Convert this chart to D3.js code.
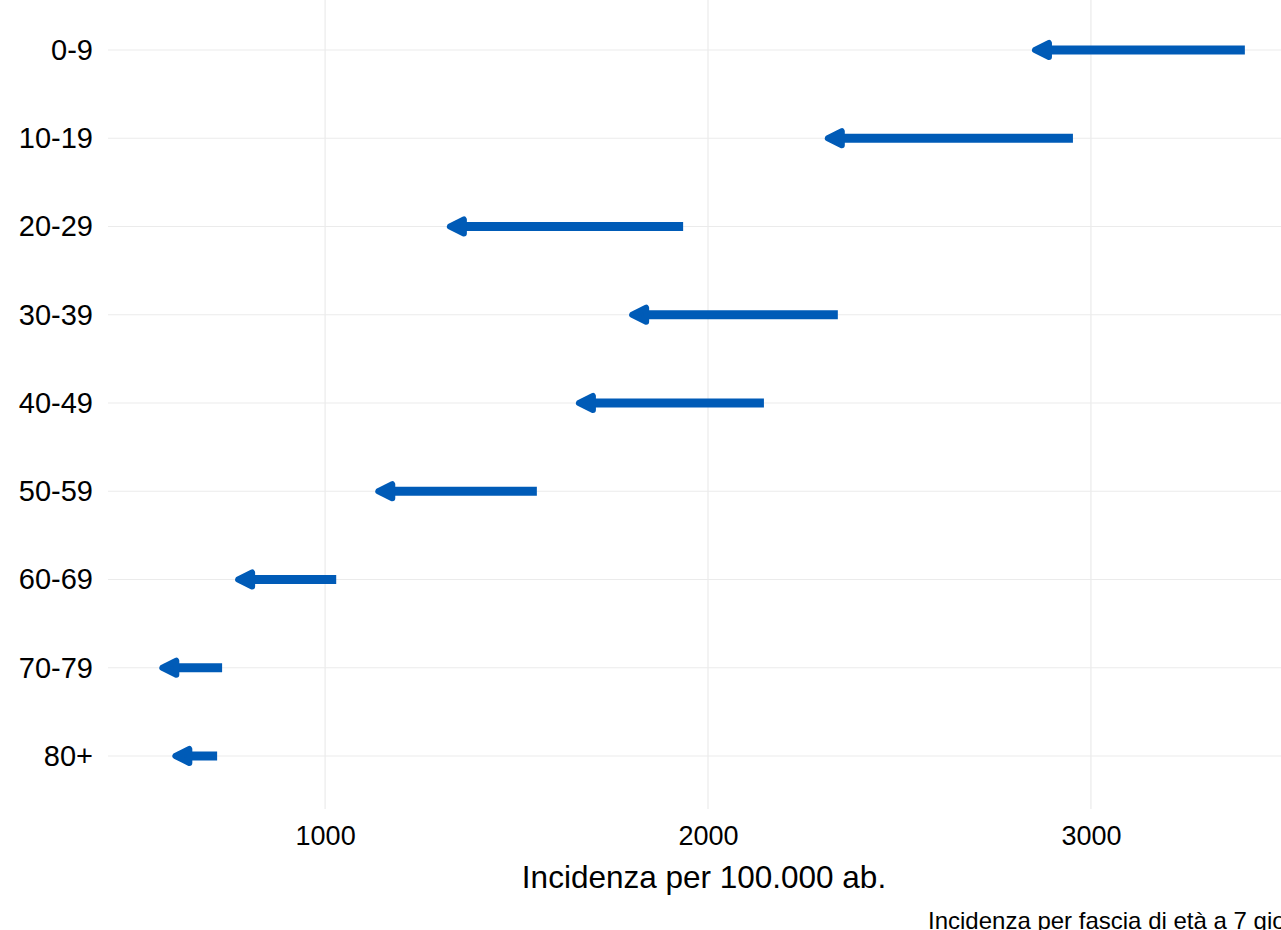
<!DOCTYPE html>
<html>
<head>
<meta charset="utf-8">
<script src="https://cdn.jsdelivr.net/npm/d3@7"></script>
<style>
  body { margin: 0; background: #fff; }
  svg { display: block; font-family: "Liberation Sans", Arial, sans-serif; }
</style>
</head>
<body>
<svg id="chart" width="1281" height="930"></svg>
<script>
// age bands, top to bottom
const ageGroups = ['0-9', '10-19', '20-29', '30-39', '40-49', '50-59', '60-69', '70-79', '80+'];
// incidence a week before (arrow tail) and now (arrow tip)
const incidencePrev = [3402, 2953, 1935, 2339, 2146, 1553, 1029, 731, 718];
const incidenceNow = [2846, 2305, 1318, 1794, 1655, 1131, 765, 567, 601];
const xTicks = [1000, 2000, 3000];

const rows = ageGroups.map((g, i) => ({ g, from: incidencePrev[i], to: incidenceNow[i] }));

const panel = { left: 108, right: 1300, top: -3, bottom: 809 };
const BLUE = '#005bb7';
const GRID = '#ebebeb';

const svg = d3.select('#chart');

const x = d3.scaleLinear().domain([433, 3546]).range([panel.left, panel.right]);
const y = d3.scalePoint().domain(ageGroups).range([50, 756]);

// grid
const grid = svg.append('g');
grid.selectAll('line.v')
  .data(xTicks)
  .enter()
  .append('line')
  .attr('x1', d => x(d)).attr('x2', d => x(d))
  .attr('y1', panel.top).attr('y2', panel.bottom)
  .attr('stroke', GRID).attr('stroke-width', 1.2);
grid.selectAll('line.h')
  .data(ageGroups)
  .enter()
  .append('line')
  .attr('x1', panel.left).attr('x2', panel.right)
  .attr('y1', d => y(d)).attr('y2', d => y(d))
  .attr('stroke', GRID).attr('stroke-width', 1.2);

// x axis
const xAxis = svg.append('g')
  .attr('transform', `translate(0,${panel.bottom + 6})`)
  .call(d3.axisBottom(x).tickValues(xTicks).tickSize(0).tickPadding(0).tickFormat(d3.format('d')));
xAxis.select('.domain').remove();
xAxis.selectAll('text')
  .attr('dy', '1.1em')
  .style('font-family', '"Liberation Sans", Arial, sans-serif')
  .style('font-size', '27px')
  .attr('fill', '#000');

// y axis
const yAxis = svg.append('g')
  .attr('transform', `translate(${panel.left - 15},0)`)
  .call(d3.axisLeft(y).tickSize(0).tickPadding(0));
yAxis.select('.domain').remove();
yAxis.selectAll('text')
  .style('font-family', '"Liberation Sans", Arial, sans-serif')
  .style('font-size', '29px')
  .attr('fill', '#000');

// arrows
const arrows = svg.append('g');
arrows.selectAll('line.seg')
  .data(rows)
  .enter()
  .append('line')
  .attr('x1', d => x(d.from))
  .attr('x2', d => x(d.to) + 10)
  .attr('y1', d => y(d.g)).attr('y2', d => y(d.g))
  .attr('stroke', BLUE)
  .attr('stroke-width', 9);

// arrow heads: tip at the current value
arrows.selectAll('path.head')
  .data(rows)
  .enter()
  .append('path')
  .attr('d', d => {
    const tx = x(d.to) + 3, ty = y(d.g);
    return `M${tx},${ty} L${tx + 14},${ty - 7} L${tx + 14},${ty + 7} Z`;
  })
  .attr('fill', BLUE)
  .attr('stroke', BLUE)
  .attr('stroke-width', 6)
  .attr('stroke-linejoin', 'round');

// titles
svg.append('text')
  .attr('x', (panel.left + panel.right) / 2)
  .attr('y', 888)
  .attr('text-anchor', 'middle')
  .attr('font-size', 31.5)
  .attr('fill', '#000')
  .text('Incidenza per 100.000 ab.');

// caption, cut by the right edge as in the original
svg.append('text')
  .attr('x', 928)
  .attr('y', 929)
  .attr('font-size', 24)
  .attr('fill', '#000')
  .text('Incidenza per fascia di età a 7 giorni');
</script>
</body>
</html>
